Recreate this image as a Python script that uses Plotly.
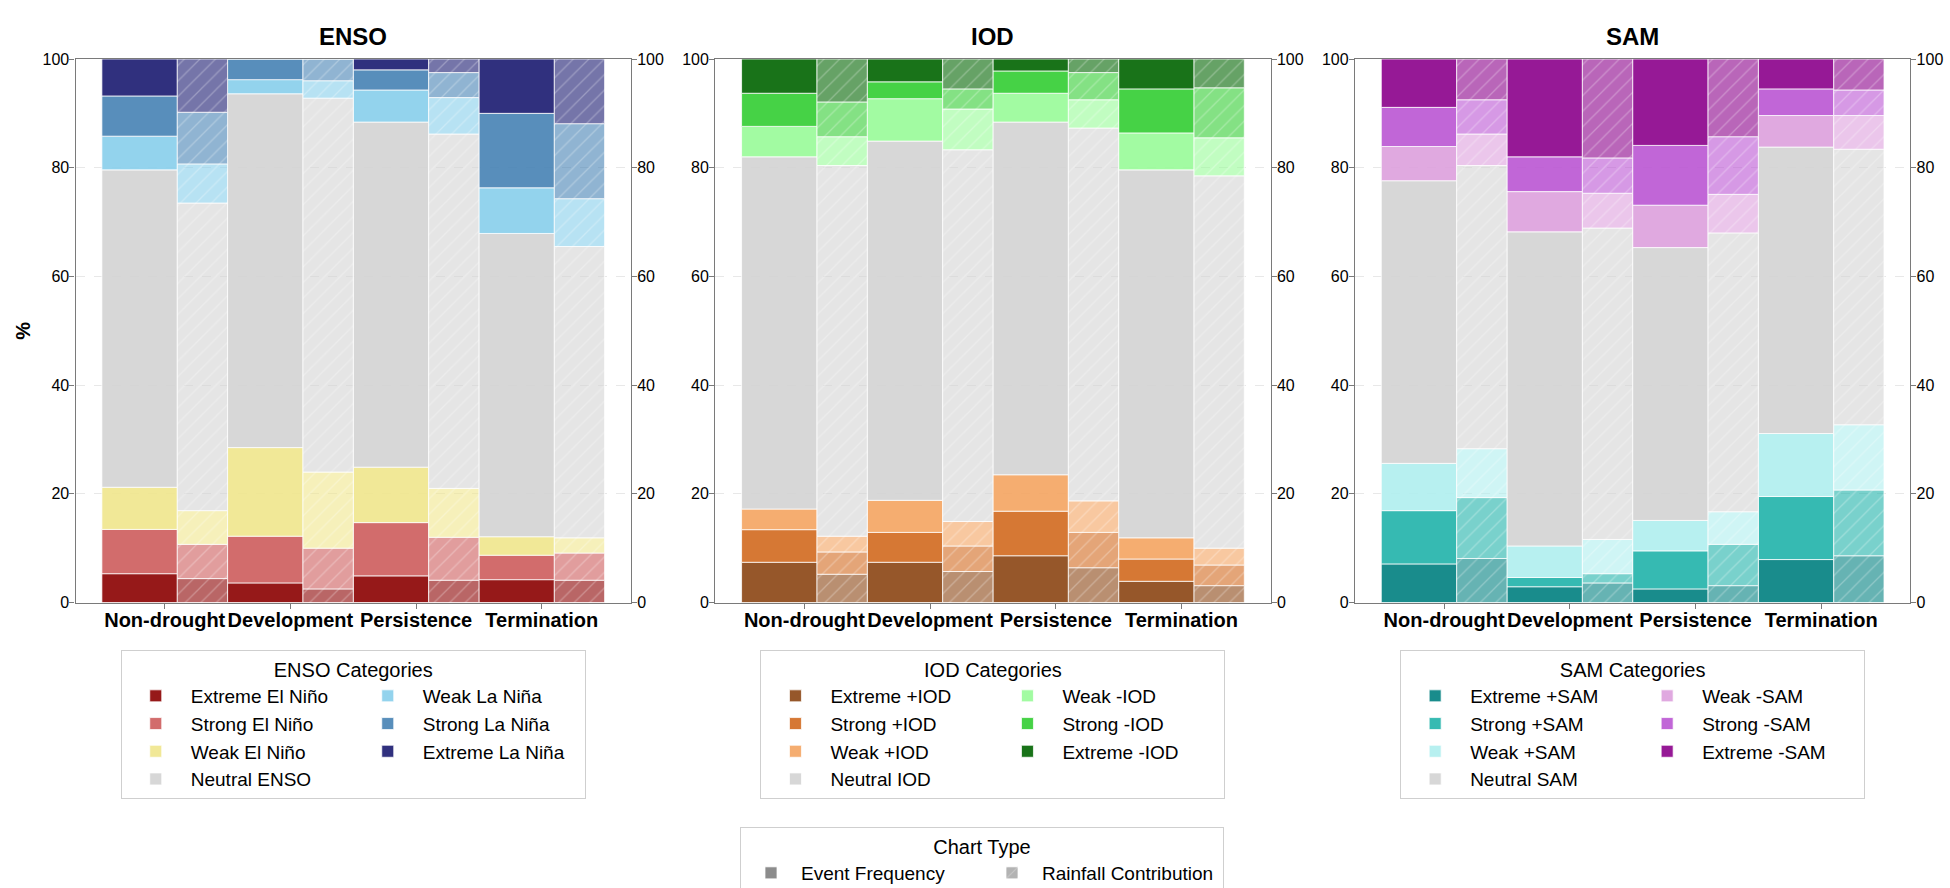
import numpy as np
import plotly.graph_objects as go

# ---------------- data ----------------
stages = ["Non-drought", "Development", "Persistence", "Termination"]

enso_categories = ["Extreme El Niño", "Strong El Niño", "Weak El Niño", "Neutral ENSO",
                   "Weak La Niña", "Strong La Niña", "Extreme La Niña"]
iod_categories = ["Extreme +IOD", "Strong +IOD", "Weak +IOD", "Neutral IOD",
                  "Weak -IOD", "Strong -IOD", "Extreme -IOD"]
sam_categories = ["Extreme +SAM", "Strong +SAM", "Weak +SAM", "Neutral SAM",
                  "Weak -SAM", "Strong -SAM", "Extreme -SAM"]

# rows: stages; columns: categories from bottom to top (%)
enso_freq = [
    [5.3, 8.15, 7.75, 58.4, 6.2, 7.4, 6.8],
    [3.6, 8.6, 16.3, 65.1, 2.6, 3.8, 0.0],
    [4.9, 9.8, 10.2, 63.5, 5.9, 3.7, 2.0],
    [4.2, 4.5, 3.4, 55.8, 8.4, 13.7, 10.0],
]
enso_rain = [
    [4.4, 6.3, 6.2, 56.6, 7.2, 9.5, 9.8],
    [2.5, 7.5, 14.0, 68.8, 3.2, 4.0, 0.0],
    [4.1, 7.9, 9.0, 65.2, 6.7, 4.6, 2.5],
    [4.1, 5.0, 2.8, 53.6, 8.8, 13.8, 11.9],
]
iod_freq = [
    [7.4, 6.0, 3.8, 64.8, 5.6, 6.1, 6.3],
    [7.4, 5.5, 5.9, 66.1, 7.8, 3.1, 4.2],
    [8.6, 8.2, 6.7, 64.9, 5.3, 4.1, 2.2],
    [3.9, 4.1, 3.9, 67.7, 6.8, 8.1, 5.5],
]
iod_rain = [
    [5.2, 4.1, 2.9, 68.2, 5.3, 6.4, 7.9],
    [5.7, 4.7, 4.5, 68.4, 7.5, 3.7, 5.5],
    [6.4, 6.5, 5.8, 68.6, 5.2, 5.0, 2.5],
    [3.1, 3.8, 3.1, 68.5, 7.0, 9.2, 5.3],
]
sam_freq = [
    [7.1, 9.8, 8.7, 52.0, 6.3, 7.2, 8.9],
    [2.9, 1.7, 5.8, 57.8, 7.4, 6.4, 18.0],
    [2.5, 7.0, 5.6, 50.2, 7.8, 11.0, 15.9],
    [7.9, 11.6, 11.6, 52.7, 5.8, 4.9, 5.5],
]
sam_rain = [
    [8.1, 11.2, 9.0, 52.1, 5.8, 6.3, 7.5],
    [3.6, 1.7, 6.3, 57.3, 6.4, 6.5, 18.2],
    [3.1, 7.6, 6.0, 51.3, 7.1, 10.6, 14.3],
    [8.6, 12.1, 12.0, 50.7, 6.2, 4.7, 5.7],
]

y_ticks = [0, 20, 40, 60, 80, 100]

# ---------------- styles ----------------
enso_colors = [(139, 0, 0), (205, 92, 92), (240, 230, 140), (211, 211, 211),
               (135, 206, 235), (70, 130, 180), (25, 25, 112)]
iod_colors = [(139, 69, 19), (210, 105, 30), (244, 164, 96), (211, 211, 211),
              (152, 251, 152), (50, 205, 50), (0, 100, 0)]
sam_colors = [(0, 128, 128), (32, 178, 170), (175, 238, 238), (211, 211, 211),
              (221, 160, 221), (186, 85, 211), (139, 0, 139)]


def rgba(c, a):
    return f"rgba({c[0]},{c[1]},{c[2]},{a})"


FONT = "Liberation Sans, Arial, Helvetica, sans-serif"
AX_COLOR = "#7a7a7a"
EDGE = "rgba(255,255,255,0.75)"
HATCH = dict(shape="/", fillmode="overlay", fgcolor="rgba(255,255,255,0.55)",
             size=11, solidity=0.12)

W, H = 1950, 888
x_domains = [[75.5 / W, 631.0 / W], [715.2 / W, 1270.7 / W], [1354.9 / W, 1910.4 / W]]
y_domain = [1 - 602.5 / H, 1 - 59 / H]

panels = [
    ("ENSO", enso_categories, enso_freq, enso_rain, enso_colors),
    ("IOD", iod_categories, iod_freq, iod_rain, iod_colors),
    ("SAM", sam_categories, sam_freq, sam_rain, sam_colors),
]

fig = go.Figure()

for i, (title, cats, freq_rows, rain_rows, colors) in enumerate(panels):
    xa = "x" if i == 0 else f"x{i + 1}"
    ya = "y" if i == 0 else f"y{i + 1}"
    yr = f"y{i + 4}"
    leg = "legend" if i == 0 else f"legend{i + 1}"

    freq = np.array(freq_rows).T
    rain = np.array(rain_rows).T
    fbase = np.vstack([np.zeros(len(stages)), np.cumsum(freq, axis=0)[:-1]])
    rbase = np.vstack([np.zeros(len(stages)), np.cumsum(rain, axis=0)[:-1]])

    for k, cat in enumerate(cats):
        grp = f"{title}-col{1 if k < 4 else 2}"
        fig.add_trace(go.Bar(
            x=stages, y=freq[k], base=fbase[k], offset=-0.5, width=0.6,
            xaxis=xa, yaxis=ya, name=cat, legend=leg, legendgroup=grp,
            marker=dict(color=rgba(colors[k], 0.9), line=dict(color=EDGE, width=1)),
            hovertemplate=f"{cat}<br>%{{x}}<br>Event Frequency: %{{y:.1f}}%<extra></extra>",
        ))
        fig.add_trace(go.Bar(
            x=stages, y=rain[k], base=rbase[k], offset=0.1, width=0.4,
            xaxis=xa, yaxis=yr, name=cat, legend=leg, legendgroup=grp, showlegend=False,
            marker=dict(color=rgba(colors[k], 0.6), line=dict(color=EDGE, width=1),
                        pattern=HATCH),
            hovertemplate=f"{cat}<br>%{{x}}<br>Rainfall Contribution: %{{y:.1f}}%<extra></extra>",
        ))

    xc = (x_domains[i][0] + x_domains[i][1]) / 2
    fig.add_annotation(text=title, x=xc, y=1 - 37 / H, xref="paper", yref="paper",
                       showarrow=False, font=dict(size=24, weight="bold", family=FONT),
                       xanchor="center", yanchor="middle")

    common_axis = dict(showline=True, linecolor=AX_COLOR, linewidth=1.2,
                       ticks="outside", ticklen=5, tickcolor=AX_COLOR, tickwidth=1.2)
    fig.layout[f"xaxis{'' if i == 0 else i + 1}"] = dict(
        domain=x_domains[i], anchor=ya, type="category",
        categoryorder="array", categoryarray=stages, range=[-0.71, 3.71],
        mirror=True, showgrid=False, zeroline=False, ticklabelstandoff=-6,
        tickfont=dict(size=20, weight="bold", family=FONT, color="black"),
        **common_axis)
    fig.layout[f"yaxis{'' if i == 0 else i + 1}"] = dict(
        domain=y_domain, anchor=xa, range=[0, 100], tickvals=y_ticks,
        mirror=True, showgrid=True, gridcolor="rgba(190,190,190,0.35)",
        griddash="dash", gridwidth=0.8, zeroline=False, ticklabelstandoff=-3,
        tickfont=dict(size=16, family=FONT, color="black"),
        title=dict(text="%" if i == 0 else "", font=dict(size=20, weight="bold"),
                   standoff=6),
        **common_axis)
    fig.layout[f"yaxis{i + 4}"] = dict(
        overlaying=ya, anchor=xa, side="right", range=[0, 100], tickvals=y_ticks,
        showgrid=False, zeroline=False, showline=False, ticklabelstandoff=-3,
        ticks="outside", ticklen=5, tickcolor=AX_COLOR, tickwidth=1.2,
        tickfont=dict(size=16, family=FONT, color="black"))

    fig.layout[leg] = dict(
        x=xc, y=1 - 650 / H, xanchor="center", yanchor="top",
        orientation="h", traceorder="grouped", entrywidth=157, itemwidth=60,
        title=dict(text=f"{title} Categories", side="top center",
                   font=dict(size=20, family=FONT)),
        font=dict(size=19, family=FONT, color="black"),
        bgcolor="white", bordercolor="#cfcfcf", borderwidth=1)

# chart-type legend
fig.add_trace(go.Bar(x=[None], y=[None], name="Event Frequency", legend="legend4",
                     marker=dict(color=rgba((128, 128, 128), 0.9),
                                 line=dict(color=EDGE, width=1))))
fig.add_trace(go.Bar(x=[None], y=[None], name="Rainfall Contribution", legend="legend4",
                     marker=dict(color=rgba((128, 128, 128), 0.6),
                                 line=dict(color=EDGE, width=1), pattern=HATCH)))
fig.layout["legend4"] = dict(
    x=982 / W, y=1 - 827 / H, xanchor="center", yanchor="top",
    orientation="h", entrywidth=176, itemwidth=50,
    title=dict(text="Chart Type", side="top center", font=dict(size=20, family=FONT)),
    font=dict(size=19, family=FONT, color="black"),
    bgcolor="white", bordercolor="#cfcfcf", borderwidth=1)

fig.update_layout(
    width=W, height=H, margin=dict(l=0, r=0, t=0, b=0, autoexpand=False),
    paper_bgcolor="white", plot_bgcolor="white", barmode="overlay",
    font=dict(family=FONT, size=16, color="black"),
)

fig.write_html("out.html", config={"displayModeBar": False},
               post_script="document.body.style.margin='0px';")
